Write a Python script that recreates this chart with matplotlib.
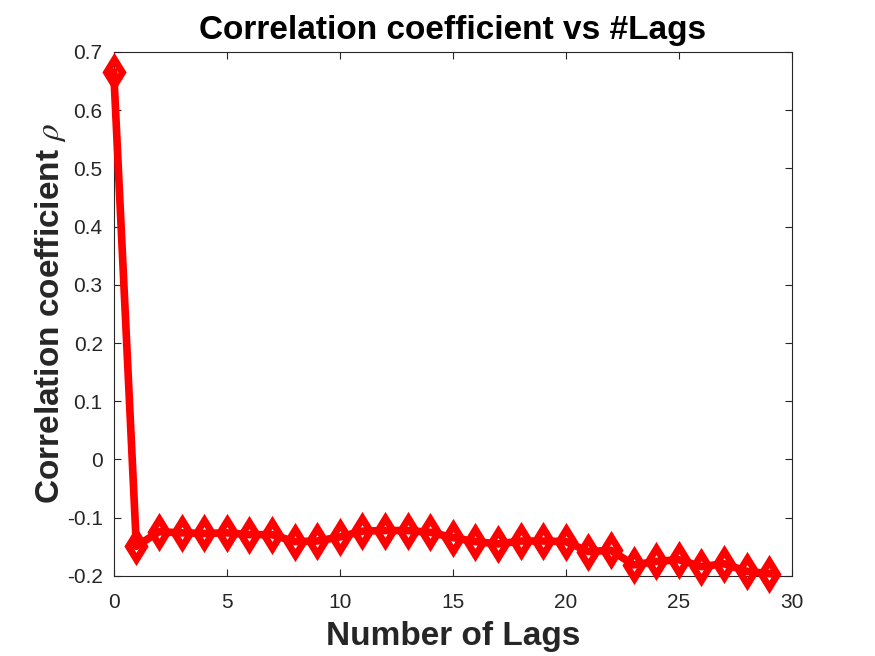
import matplotlib
matplotlib.use("Agg")
import matplotlib.pyplot as plt

# Lag numbers and correlation coefficient per lag
lags = list(range(30))
rho = [0.665, -0.149, -0.124, -0.126, -0.127, -0.126, -0.129, -0.129, -0.141, -0.140,
       -0.133, -0.123, -0.122, -0.122, -0.125, -0.134, -0.141, -0.145, -0.140, -0.140,
       -0.141, -0.158, -0.156, -0.181, -0.175, -0.172, -0.184, -0.179, -0.192, -0.196]

x_ticks = [0, 5, 10, 15, 20, 25, 30]
y_ticks = [-0.2, -0.1, 0, 0.1, 0.2, 0.3, 0.4, 0.5, 0.6, 0.7]
y_tick_labels = ["-0.2", "-0.1", "0", "0.1", "0.2", "0.3", "0.4", "0.5", "0.6", "0.7"]

plt.rcParams["font.family"] = ["Liberation Sans", "DejaVu Sans"]
plt.rcParams["mathtext.fontset"] = "stix"

fig = plt.figure(figsize=(8.75, 6.56), dpi=100)
ax = fig.add_axes([0.13, 0.122, 0.775, 0.799])

# thick red line, open diamonds (line shows through them like in MATLAB)
ax.plot(lags, rho, color="red", linewidth=5.5, marker="d", markersize=13,
        markerfacecolor="none", markeredgecolor="red", markeredgewidth=5,
        clip_on=False, zorder=3)

ax.set_xlim(0, 30)
ax.set_ylim(-0.2, 0.7)
ax.set_xticks(x_ticks)
ax.set_yticks(y_ticks)
ax.set_yticklabels(y_tick_labels)

gray = "#262626"
ax.tick_params(direction="in", length=5, width=0.8, colors=gray, labelsize=15,
               top=True, right=True)
ax.tick_params(axis="x", pad=12)
ax.tick_params(axis="y", pad=8)
for s in ax.spines.values():
    s.set_color(gray)
    s.set_linewidth(0.8)

ax.set_title("Correlation coefficient vs #Lags", fontsize=24, fontweight="bold", pad=9)
ax.set_xlabel("Number of Lags", fontsize=24, fontweight="bold", color=gray, labelpad=7)
ax.set_ylabel(r"Correlation coefficient $\rho$", fontsize=24, fontweight="bold", color=gray, labelpad=-1)

fig.savefig("out.png", dpi=100)
